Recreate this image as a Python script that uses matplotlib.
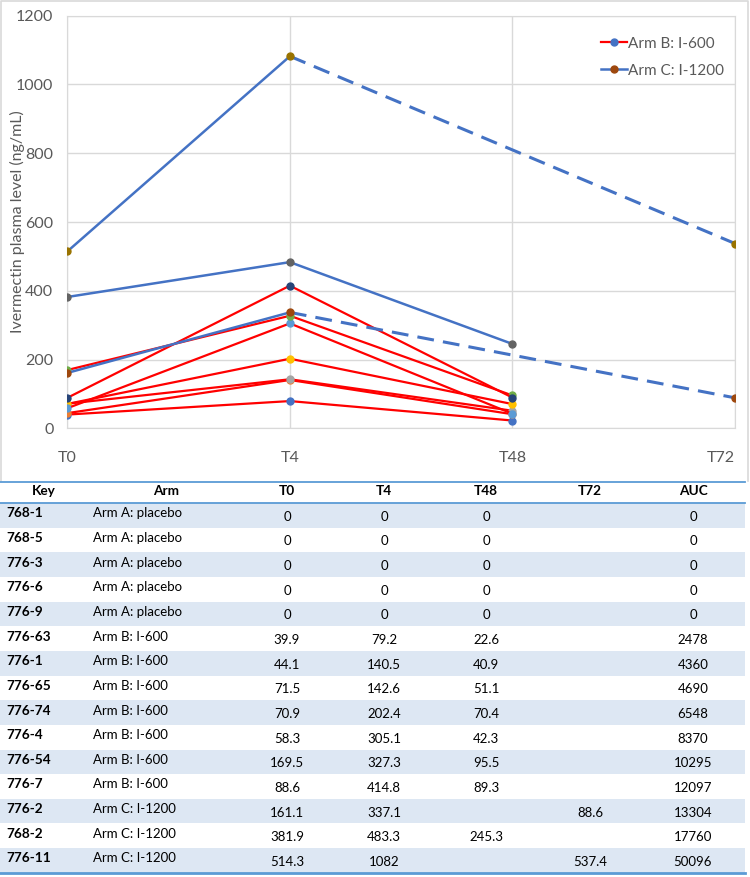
import matplotlib
matplotlib.use("Agg")
import matplotlib.pyplot as plt
import numpy as np

plt.rcParams['font.family'] = ['Lato', 'DejaVu Sans']

# time points on the chart
timepoints = ["T0", "T4", "T48", "T72"]

# Arm B: I-600 (T0, T4, T48)
arm_b_keys = ["776-63", "776-1", "776-65", "776-74", "776-4", "776-54", "776-7"]
arm_b_t0 = [39.9, 44.1, 71.5, 70.9, 58.3, 169.5, 88.6]
arm_b_t4 = [79.2, 140.5, 142.6, 202.4, 305.1, 327.3, 414.8]
arm_b_t48 = [22.6, 40.9, 51.1, 70.4, 42.3, 95.5, 89.3]

# Arm C: I-1200 (None = not measured)
arm_c_keys = ["776-2", "768-2", "776-11"]
arm_c_t0 = [161.1, 381.9, 514.3]
arm_c_t4 = [337.1, 483.3, 1082]
arm_c_t48 = [None, 245.3, None]
arm_c_t72 = [88.6, None, 537.4]

# table rows
table_header = ["Key", "Arm", "T0", "T4", "T48", "T72", "AUC"]
table_keys = ["768-1", "768-5", "776-3", "776-6", "776-9",
              "776-63", "776-1", "776-65", "776-74", "776-4", "776-54", "776-7",
              "776-2", "768-2", "776-11"]
table_arms = ["Arm A: placebo"] * 5 + ["Arm B: I-600"] * 7 + ["Arm C: I-1200"] * 3
table_t0 = ["0", "0", "0", "0", "0", "39.9", "44.1", "71.5", "70.9", "58.3", "169.5", "88.6",
            "161.1", "381.9", "514.3"]
table_t4 = ["0", "0", "0", "0", "0", "79.2", "140.5", "142.6", "202.4", "305.1", "327.3", "414.8",
            "337.1", "483.3", "1082"]
table_t48 = ["0", "0", "0", "0", "0", "22.6", "40.9", "51.1", "70.4", "42.3", "95.5", "89.3",
             "", "245.3", ""]
table_t72 = [""] * 12 + ["88.6", "", "537.4"]
table_auc = ["0", "0", "0", "0", "0", "2478", "4360", "4690", "6548", "8370", "10295", "12097",
             "13304", "17760", "50096"]

# excel-like marker colours, one per series
marker_colors = ["#4472c4", "#ed7d31", "#a5a5a5", "#ffc000", "#5b9bd5", "#70ad47",
                 "#264478", "#9e480e", "#636363", "#997300"]

RED = "#ff0000"
BLUE = "#4472c4"
GRAY_TXT = "#595959"

W, H = 750, 877
fig = plt.figure(figsize=(W / 100, H / 100), dpi=100)

# background layer in pixel coordinates (chart frame + table)
bg = fig.add_axes([0, 0, 1, 1])
bg.set_xlim(0, W)
bg.set_ylim(H, 0)
bg.axis("off")

# chart frame
bg.plot([1, 1, 748, 748], [481, 1, 1, 481], color="#d9d9d9", lw=1.2)

# table
row_top = 503
row_h = 24.65
col_x = [44, 166, 287, 384, 486, 590, 693]
for i in range(len(table_keys)):
    y0 = row_top + i * row_h
    if i % 2 == 0:
        bg.fill_between([0, 745], y0, y0 + row_h, color="#dde7f3", lw=0)
    yc = y0 + row_h / 2
    bg.text(6, yc - 2, table_keys[i], fontsize=9.8, fontweight="bold", ha="left", va="center")
    bg.text(93, yc - 2, table_arms[i], fontsize=9.5, ha="left", va="center")
    vals = [table_t0[i], table_t4[i], table_t48[i], table_t72[i], table_auc[i]]
    for j, v in enumerate(vals):
        bg.text(col_x[j + 2], yc + 1.5, v, fontsize=9.5, ha="center", va="center")
for j, h in enumerate(table_header):
    bg.text(col_x[j], 491, h, fontsize=9.8, fontweight="bold", ha="center", va="center")
bg.plot([0, 745], [482, 482], color="#5b9bd5", lw=1.3)
bg.plot([0, 745], [row_top, row_top], color="#5b9bd5", lw=1.3)
table_bottom = row_top + len(table_keys) * row_h
bg.plot([0, 745], [table_bottom, table_bottom], color="#5b9bd5", lw=2)

# line chart
ax = fig.add_axes([67.3 / W, 1 - 428.3 / H, (735 - 67.3) / W, (428.3 - 15.7) / H])
ax.set_zorder(2)
ax.patch.set_alpha(0)
x = np.arange(len(timepoints))

for k in range(len(arm_b_keys)):
    yv = [arm_b_t0[k], arm_b_t4[k], arm_b_t48[k]]
    ax.plot(x[:3], yv, color=RED, lw=1.6, marker="o", ms=5,
            mfc=marker_colors[k], mec=marker_colors[k], zorder=3,
            label="Arm B: I-600" if k == 0 else None)

for k in range(len(arm_c_keys)):
    c = marker_colors[len(arm_b_keys) + k]
    vals = [arm_c_t0[k], arm_c_t4[k], arm_c_t48[k], arm_c_t72[k]]
    pts = [(xi, v) for xi, v in zip(x, vals) if v is not None]
    # solid through consecutive time points, dashed across a missing one
    for (xa, ya), (xb, yb) in zip(pts[:-1], pts[1:]):
        ls = "-" if xb - xa == 1 else (0, (5.5, 3))
        ax.plot([xa, xb], [ya, yb], color=BLUE, lw=1.8 if ls == "-" else 2.2,
                ls=ls, zorder=3)
    px, py = zip(*pts)
    ax.plot(px, py, ls="none", marker="o", ms=5, mfc=c, mec=c, zorder=4)
    if k == 0:
        ax.plot([], [], color=BLUE, lw=1.8, marker="o", ms=5, mfc=c, mec=c,
                label="Arm C: I-1200")

ax.set_xlim(0, 3)
ax.set_ylim(0, 1200)
ax.set_yticks(range(0, 1201, 200))
ax.set_xticks(x)
ax.set_xticklabels(timepoints)
ax.get_xticklabels()[-1].set_horizontalalignment("right")
ax.grid(True, color="#d9d9d9", lw=1)
ax.set_axisbelow(True)
for s in ax.spines.values():
    s.set_color("#d9d9d9")
ax.tick_params(length=0, labelsize=11.5, labelcolor=GRAY_TXT)
ax.tick_params(axis="y", pad=10)
ax.tick_params(axis="x", pad=16)
ax.set_ylabel("Ivermectin plasma level (ng/mL)", fontsize=11.5, color=GRAY_TXT)
ax.yaxis.set_label_coords(-0.064, 0.5)

ax.legend(loc="upper right", bbox_to_anchor=(1.0, 0.975), frameon=False,
          fontsize=11, labelcolor=GRAY_TXT, handlelength=1.7, handletextpad=0.1,
          labelspacing=0.85, borderaxespad=0.3)

fig.savefig("out.png", dpi=100)
